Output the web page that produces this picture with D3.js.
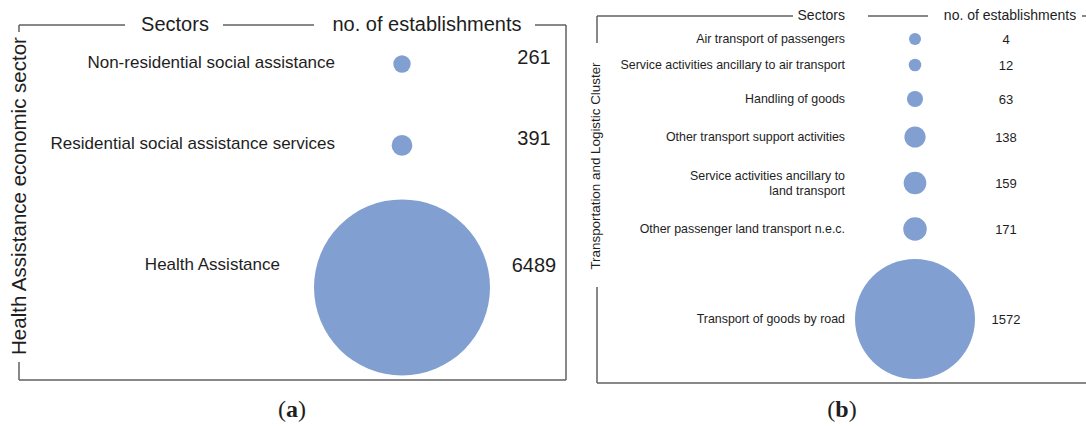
<!DOCTYPE html>
<html>
<head>
<meta charset="utf-8">
<script src="https://cdn.jsdelivr.net/npm/d3@7"></script>
<style>
  html, body { margin: 0; padding: 0; background: #fff; }
  svg { display: block; }
  text { font-family: "Liberation Sans", Arial, sans-serif; fill: #1e1e1e; }
</style>
</head>
<body>
<svg id="chart" width="1086" height="428"></svg>
<script>
// ---- data ----
const headers = ["Sectors", "no. of establishments"];
const panelTitles = ["Health Assistance economic sector", "Transportation and Logistic Cluster"];
const panelLetters = ["a", "b"];

const leftSectors = [
  "Non-residential social assistance",
  "Residential social assistance services",
  "Health Assistance"
];
const leftCounts = [261, 391, 6489];

const rightSectors = [
  "Air transport of passengers",
  "Service activities ancillary to air transport",
  "Handling of goods",
  "Other transport support activities",
  "Service activities ancillary to\nland transport",
  "Other passenger land transport n.e.c.",
  "Transport of goods by road"
];
const rightCounts = [4, 12, 63, 138, 159, 171, 1572];

// ---- drawing ----
const svg = d3.select("#chart");
const FILL = "#819fd0";
const LINE = "#606060";

function line(x1, y1, x2, y2) {
  svg.append("line").attr("x1", x1).attr("y1", y1).attr("x2", x2).attr("y2", y2)
    .attr("stroke", LINE).attr("stroke-width", 1.5);
}

// ===== Panel (a) =====
{
  const L = 19, R = 566, T = 25, B = 380;
  line(L, T, 125, T);
  line(223, T, 314, T);
  line(535, T, R, T);
  line(L, T, L, 32);
  line(L, 362, L, B);
  line(L, B, R, B);
  line(R, T, R, B);
  svg.append("text").attr("x", 175).attr("y", T).attr("dy", "0.32em")
    .attr("text-anchor", "middle").style("font-size", "20px").text(headers[0]);
  svg.append("text").attr("x", 427).attr("y", T).attr("dy", "0.32em")
    .attr("text-anchor", "middle").style("font-size", "20px").text(headers[1]);
  svg.append("text").attr("transform", `translate(${L},196) rotate(-90)`)
    .attr("dy", "0.35em").attr("text-anchor", "middle")
    .style("font-size", "20.5px").text(panelTitles[0]);

  const row = d3.scaleOrdinal().domain(leftSectors).range([62, 143, 264]);
  const xC = d3.scalePoint().domain(["circle"]).range([402, 402]);
  const xV = d3.scalePoint().domain(["value"]).range([534, 534]);
  const r = d3.scaleLinear().domain([d3.min(leftCounts), d3.max(leftCounts)]).range([8.7, 88]);
  const data = leftSectors.map((s, i) => ({ s, v: leftCounts[i] }));
  const cx = xC("circle");

  svg.append("g").selectAll("circle").data(data).join("circle")
    .attr("cx", cx)
    .attr("cy", d => row(d.s) + 0.27 * (r(d.v) - r.range()[0]) + 2)
    .attr("r", d => r(d.v))
    .attr("fill", FILL);

  svg.append("g").selectAll("text").data(data).join("text")
    .attr("x", d => Math.min(335, cx - r(d.v) - 34))
    .attr("y", d => row(d.s)).attr("dy", "0.35em")
    .attr("text-anchor", "end").style("font-size", "17px")
    .text(d => d.s);

  svg.append("g").selectAll("text").data(data).join("text")
    .attr("x", xV("value"))
    .attr("y", (d, i) => row(d.s) - (i < 2 ? 5 : -1)).attr("dy", "0.35em")
    .attr("text-anchor", "middle").style("font-size", "20px")
    .text(d => d.v);

  const lt = svg.append("text").attr("x", 292).attr("y", 417).attr("text-anchor", "middle")
    .style("font-family", "'Liberation Serif', 'DejaVu Serif', serif").style("font-size", "24px");
  lt.append("tspan").text("(");
  lt.append("tspan").style("font-weight", "bold").text(panelLetters[0]);
  lt.append("tspan").text(")");
}

// ===== Panel (b) =====
{
  const L = 597, R = 1086, T = 16, B = 383;
  line(L, T, 793, T);
  line(868, T, 928, T);
  line(1082, T, R, T);
  line(L, T, L, 43);
  line(L, 287, L, B);
  line(L, B, R, B);
  svg.append("text").attr("x", 845).attr("y", T).attr("dy", "0.32em")
    .attr("text-anchor", "end").style("font-size", "14px").text(headers[0]);
  svg.append("text").attr("x", 1010).attr("y", T).attr("dy", "0.32em")
    .attr("text-anchor", "middle").style("font-size", "14px").text(headers[1]);
  svg.append("text").attr("transform", `translate(${L - 2},166) rotate(-90)`)
    .attr("dy", "0.35em").attr("text-anchor", "middle")
    .style("font-size", "13.4px").text(panelTitles[1]);

  const row = d3.scaleOrdinal().domain(rightSectors).range([39, 65, 99, 137, 183, 229, 319]);
  const xC = d3.scalePoint().domain(["circle"]).range([915, 915]);
  const xV = d3.scalePoint().domain(["value"]).range([1006, 1006]);
  const r = d3.scaleLinear().domain([d3.min(rightCounts), d3.max(rightCounts)]).range([6, 60]);
  const data = rightSectors.map((s, i) => ({ s, v: rightCounts[i] }));

  svg.append("g").selectAll("circle").data(data).join("circle")
    .attr("cx", xC("circle"))
    .attr("cy", d => row(d.s))
    .attr("r", d => r(d.v))
    .attr("fill", FILL);

  const labels = svg.append("g").selectAll("text").data(data).join("text")
    .attr("x", 845)
    .attr("y", d => row(d.s))
    .attr("text-anchor", "end").style("font-size", "12.4px");
  labels.each(function (d) {
    const parts = d.s.split("\n");
    const sel = d3.select(this);
    parts.forEach((p, j) => {
      sel.append("tspan").attr("x", 845)
        .attr("dy", j === 0 ? `${0.35 - (parts.length - 1) * 0.6}em` : "1.2em")
        .text(p);
    });
  });

  svg.append("g").selectAll("text").data(data).join("text")
    .attr("x", xV("value"))
    .attr("y", d => row(d.s)).attr("dy", "0.35em")
    .attr("text-anchor", "middle").style("font-size", "13px")
    .text(d => d.v);

  const lt = svg.append("text").attr("x", 842).attr("y", 417).attr("text-anchor", "middle")
    .style("font-family", "'Liberation Serif', 'DejaVu Serif', serif").style("font-size", "24px");
  lt.append("tspan").text("(");
  lt.append("tspan").style("font-weight", "bold").text(panelLetters[1]);
  lt.append("tspan").text(")");
}
</script>
</body>
</html>
